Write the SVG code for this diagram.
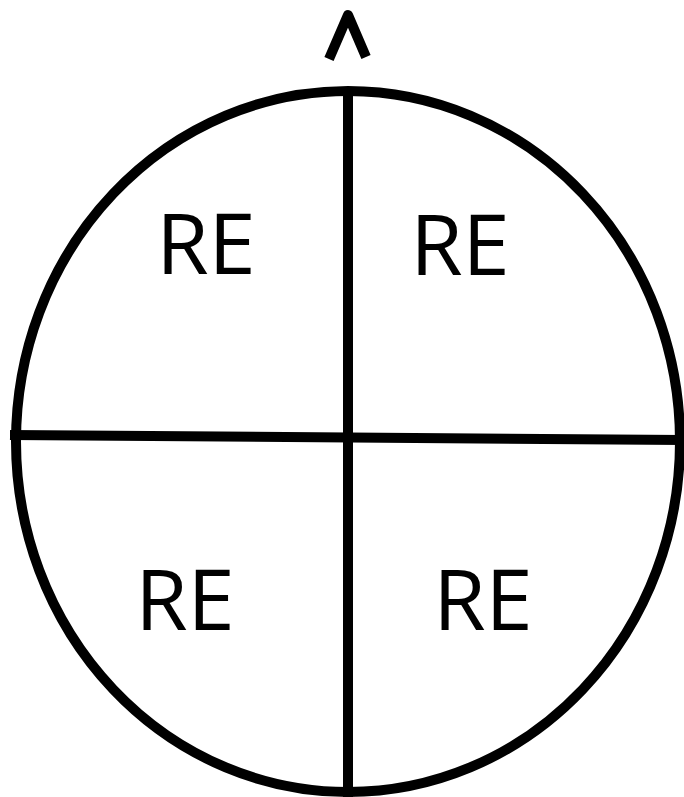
<svg xmlns="http://www.w3.org/2000/svg" width="684" height="797" viewBox="0 0 684 797">
<style>
.ln{stroke:#000;stroke-width:10;fill:none;stroke-linecap:butt}
.lbl{font-family:"Open Sans","DejaVu Sans",sans-serif;font-size:85px;fill:#000;text-anchor:middle}
</style>
<rect width="684" height="797" fill="#fff"/>
<g id="circle">
<ellipse class="ln" cx="348" cy="441.5" rx="332" ry="350.5"/>
</g>
<g id="connectors">
<line class="ln" x1="348" y1="88" x2="348" y2="797"/>
<line class="ln" x1="10" y1="435" x2="684" y2="440"/>
<polyline id="caret" class="ln" stroke-width="8" stroke-linecap="round" stroke-linejoin="round" points="329,59 348,15 366,57"/>
</g>
<g id="q1"><text class="lbl" x="206" y="274">RE</text></g>
<g id="q2"><text class="lbl" x="460" y="275">RE</text></g>
<g id="q3"><text class="lbl" x="185" y="630">RE</text></g>
<g id="q4"><text class="lbl" x="483" y="630">RE</text></g>
</svg>
